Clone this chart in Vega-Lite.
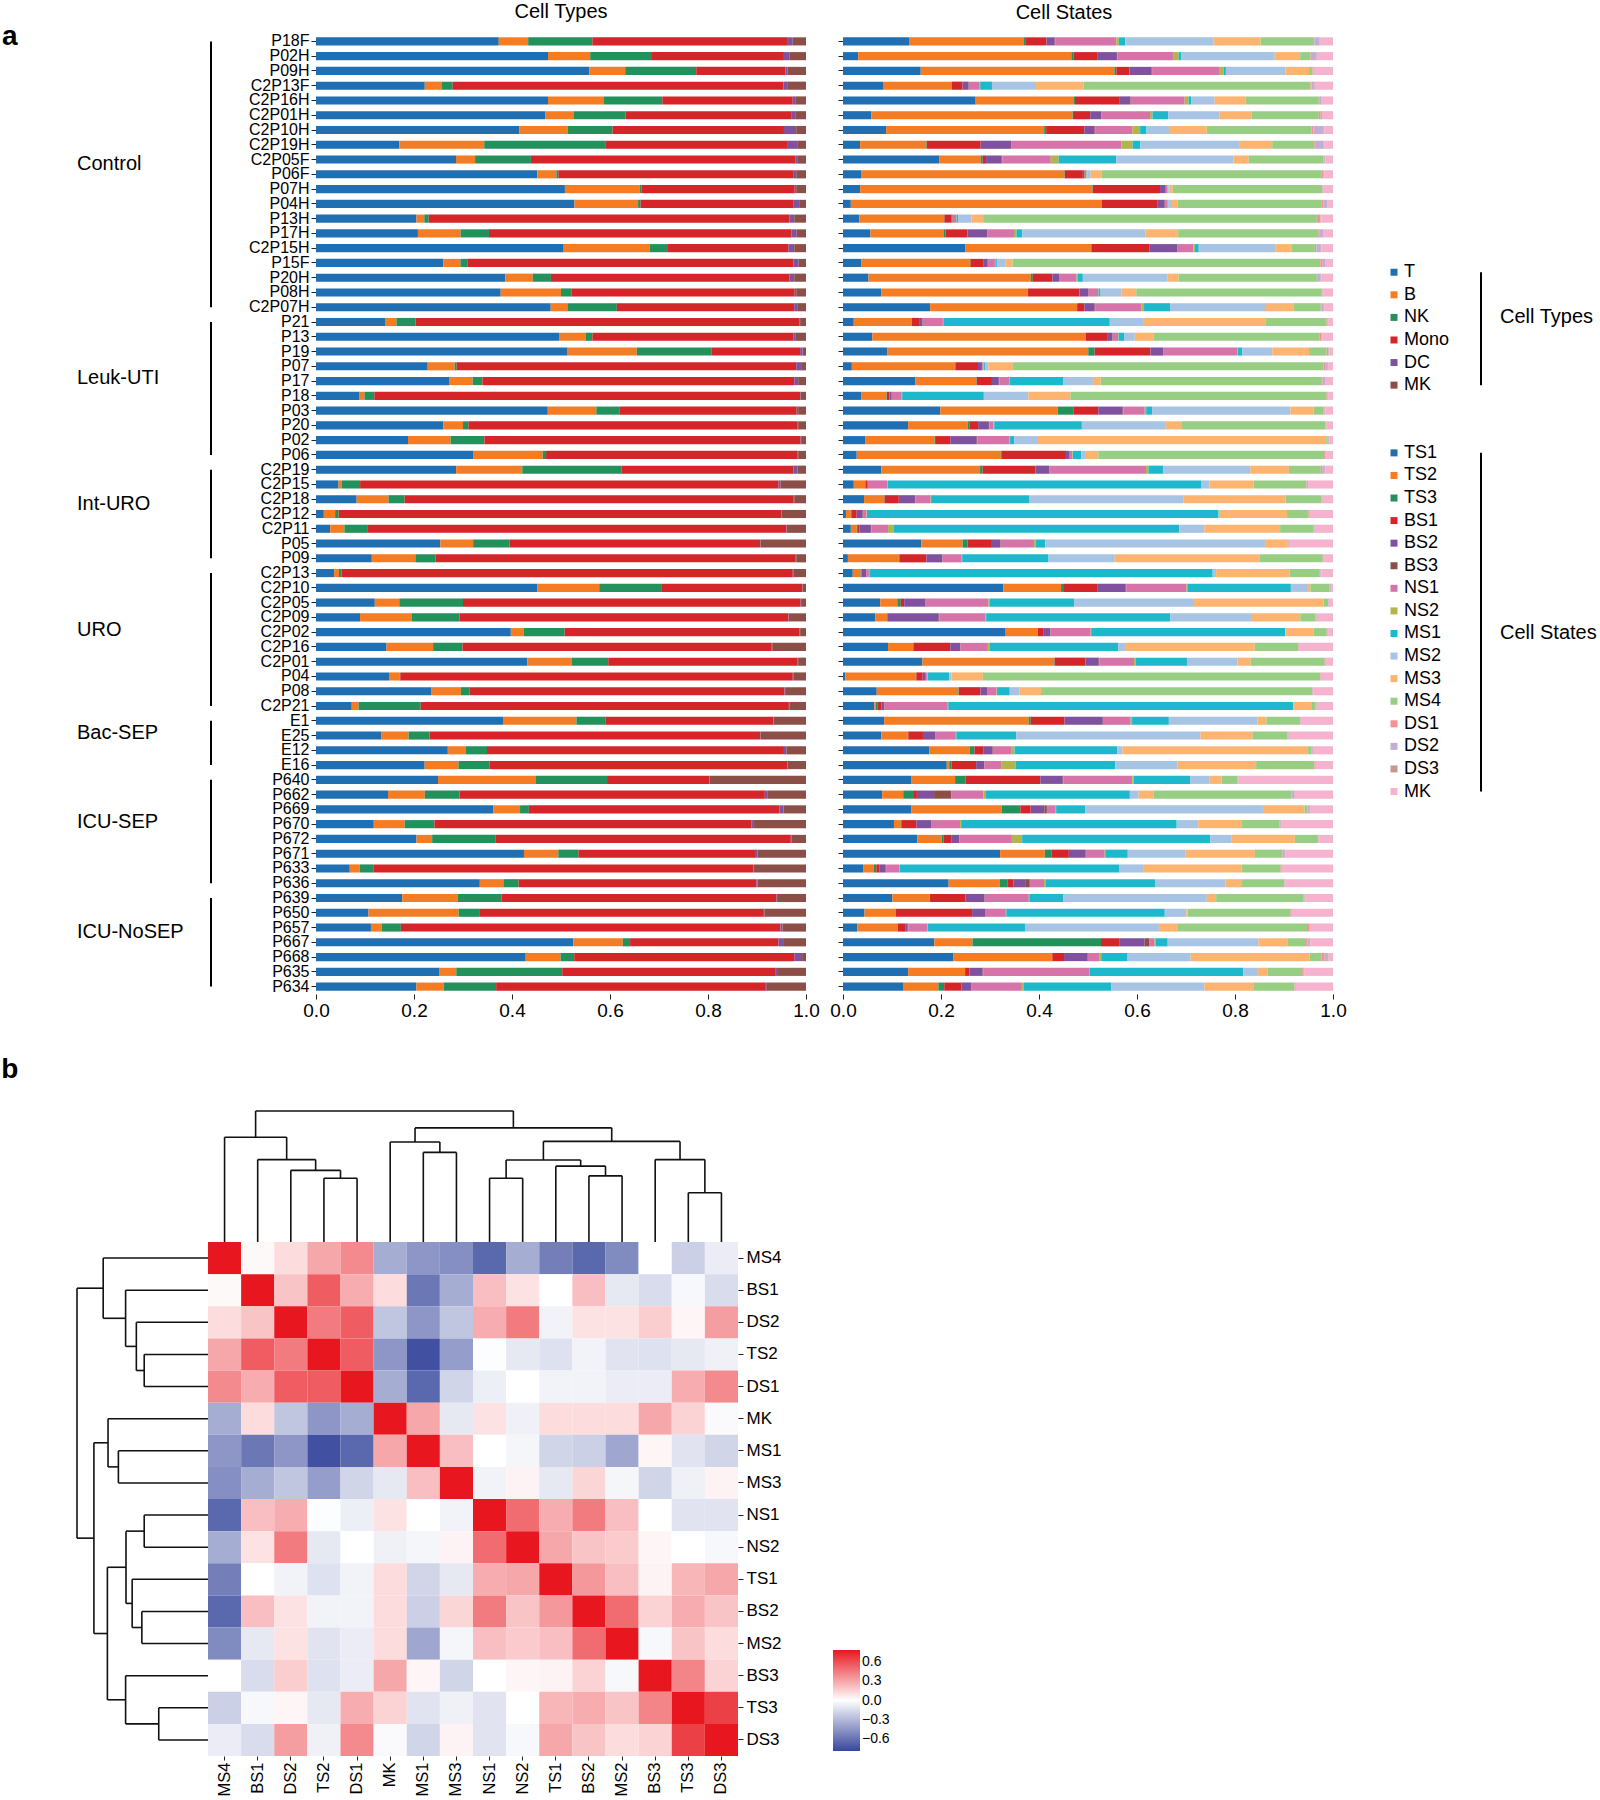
{
"$schema": "https://vega.github.io/schema/vega-lite/v6.json",
"padding": {"left": 1, "top": 1, "right": 0, "bottom": 0},
"config": {"font": "Liberation Sans", "view": {"stroke": null}, "axis": {"tickColor": "#222", "labelColor": "#000", "domainColor": "#000", "grid": false}},
"datasets": {
"typeCats": [{"k":"T","i":0,"id":"T"},{"k":"B","i":1,"id":"B"},{"k":"NK","i":2,"id":"NK"},{"k":"Mono","i":3,"id":"Mono"},{"k":"DC","i":4,"id":"DC"},{"k":"MK","i":5,"id":"MK_t"}],
"stateCats": [{"k":"TS1","i":0,"id":"TS1"},{"k":"TS2","i":1,"id":"TS2"},{"k":"TS3","i":2,"id":"TS3"},{"k":"BS1","i":3,"id":"BS1"},{"k":"BS2","i":4,"id":"BS2"},{"k":"BS3","i":5,"id":"BS3"},{"k":"NS1","i":6,"id":"NS1"},{"k":"NS2","i":7,"id":"NS2"},{"k":"MS1","i":8,"id":"MS1"},{"k":"MS2","i":9,"id":"MS2"},{"k":"MS3","i":10,"id":"MS3"},{"k":"MS4","i":11,"id":"MS4"},{"k":"DS1","i":12,"id":"DS1"},{"k":"DS2","i":13,"id":"DS2"},{"k":"DS3","i":14,"id":"DS3"},{"k":"MK","i":15,"id":"MK_s"}],
"legendBrackets": [{"a":"T","b":"MK_t","t":"Cell Types","m":"NK"},{"a":"TS1","b":"MK_s","t":"Cell States","m":"MS1"}],
"types": [
{"s":"P18F","g":"Control","T":0.373,"B":0.06,"NK":0.131,"Mono":0.399,"DC":0.01,"MK":0.027},
{"s":"P02H","g":"Control","T":0.473,"B":0.086,"NK":0.126,"Mono":0.269,"DC":0.012,"MK":0.033},
{"s":"P09H","g":"Control","T":0.558,"B":0.073,"NK":0.145,"Mono":0.182,"DC":0.004,"MK":0.038},
{"s":"C2P13F","g":"Control","T":0.222,"B":0.035,"NK":0.022,"Mono":0.675,"DC":0.009,"MK":0.037},
{"s":"C2P16H","g":"Control","T":0.473,"B":0.113,"NK":0.12,"Mono":0.266,"DC":0.005,"MK":0.022},
{"s":"C2P01H","g":"Control","T":0.468,"B":0.058,"NK":0.105,"Mono":0.339,"DC":0.007,"MK":0.022},
{"s":"C2P10H","g":"Control","T":0.415,"B":0.099,"NK":0.092,"Mono":0.35,"DC":0.025,"MK":0.02},
{"s":"C2P19H","g":"Control","T":0.17,"B":0.173,"NK":0.248,"Mono":0.371,"DC":0.019,"MK":0.018},
{"s":"C2P05F","g":"Control","T":0.286,"B":0.039,"NK":0.114,"Mono":0.54,"DC":0.004,"MK":0.018},
{"s":"P06F","g":"Control","T":0.452,"B":0.039,"NK":0.004,"Mono":0.481,"DC":0.005,"MK":0.02},
{"s":"P07H","g":"Control","T":0.508,"B":0.153,"NK":0.003,"Mono":0.313,"DC":0.003,"MK":0.02},
{"s":"P04H","g":"Control","T":0.528,"B":0.13,"NK":0.005,"Mono":0.313,"DC":0.011,"MK":0.014},
{"s":"P13H","g":"Control","T":0.205,"B":0.016,"NK":0.009,"Mono":0.736,"DC":0.01,"MK":0.024},
{"s":"P17H","g":"Control","T":0.208,"B":0.087,"NK":0.058,"Mono":0.617,"DC":0.011,"MK":0.019},
{"s":"C2P15H","g":"Control","T":0.506,"B":0.176,"NK":0.037,"Mono":0.246,"DC":0.012,"MK":0.024},
{"s":"P15F","g":"Control","T":0.26,"B":0.035,"NK":0.014,"Mono":0.666,"DC":0.011,"MK":0.015},
{"s":"P20H","g":"Control","T":0.386,"B":0.056,"NK":0.037,"Mono":0.486,"DC":0.01,"MK":0.024},
{"s":"P08H","g":"Control","T":0.377,"B":0.123,"NK":0.022,"Mono":0.455,"DC":0.003,"MK":0.02},
{"s":"C2P07H","g":"Control","T":0.479,"B":0.034,"NK":0.101,"Mono":0.362,"DC":0.006,"MK":0.018},
{"s":"P21","g":"Leuk-UTI","T":0.142,"B":0.022,"NK":0.039,"Mono":0.783,"DC":0.001,"MK":0.012},
{"s":"P13","g":"Leuk-UTI","T":0.496,"B":0.054,"NK":0.014,"Mono":0.41,"DC":0.004,"MK":0.022},
{"s":"P19","g":"Leuk-UTI","T":0.513,"B":0.141,"NK":0.152,"Mono":0.181,"DC":0.005,"MK":0.007},
{"s":"P07","g":"Leuk-UTI","T":0.228,"B":0.055,"NK":0.004,"Mono":0.693,"DC":0.01,"MK":0.01},
{"s":"P17","g":"Leuk-UTI","T":0.273,"B":0.047,"NK":0.02,"Mono":0.637,"DC":0.008,"MK":0.016},
{"s":"P18","g":"Leuk-UTI","T":0.089,"B":0.01,"NK":0.02,"Mono":0.869,"DC":0.001,"MK":0.011},
{"s":"P03","g":"Leuk-UTI","T":0.473,"B":0.099,"NK":0.047,"Mono":0.362,"DC":0.003,"MK":0.016},
{"s":"P20","g":"Leuk-UTI","T":0.26,"B":0.04,"NK":0.011,"Mono":0.672,"DC":0.001,"MK":0.016},
{"s":"P02","g":"Leuk-UTI","T":0.188,"B":0.087,"NK":0.069,"Mono":0.646,"DC":0.001,"MK":0.01},
{"s":"P06","g":"Leuk-UTI","T":0.322,"B":0.141,"NK":0.007,"Mono":0.514,"DC":0.001,"MK":0.016},
{"s":"C2P19","g":"Int-URO","T":0.286,"B":0.135,"NK":0.203,"Mono":0.35,"DC":0.009,"MK":0.017},
{"s":"C2P15","g":"Int-URO","T":0.046,"B":0.007,"NK":0.037,"Mono":0.854,"DC":0.004,"MK":0.052},
{"s":"C2P18","g":"Int-URO","T":0.083,"B":0.065,"NK":0.033,"Mono":0.795,"DC":0.001,"MK":0.024},
{"s":"C2P12","g":"Int-URO","T":0.016,"B":0.023,"NK":0.007,"Mono":0.903,"DC":0.001,"MK":0.05},
{"s":"C2P11","g":"Int-URO","T":0.029,"B":0.029,"NK":0.048,"Mono":0.855,"DC":0.001,"MK":0.039},
{"s":"P05","g":"Int-URO","T":0.254,"B":0.067,"NK":0.074,"Mono":0.513,"DC":0.001,"MK":0.092},
{"s":"P09","g":"Int-URO","T":0.114,"B":0.089,"NK":0.041,"Mono":0.736,"DC":0.001,"MK":0.02},
{"s":"C2P13","g":"URO","T":0.037,"B":0.01,"NK":0.005,"Mono":0.922,"DC":0.001,"MK":0.026},
{"s":"C2P10","g":"URO","T":0.452,"B":0.126,"NK":0.128,"Mono":0.286,"DC":0.001,"MK":0.007},
{"s":"C2P05","g":"URO","T":0.12,"B":0.05,"NK":0.13,"Mono":0.689,"DC":0.001,"MK":0.01},
{"s":"C2P09","g":"URO","T":0.09,"B":0.106,"NK":0.097,"Mono":0.672,"DC":0.001,"MK":0.035},
{"s":"C2P02","g":"URO","T":0.398,"B":0.026,"NK":0.084,"Mono":0.48,"DC":0.001,"MK":0.012},
{"s":"C2P16","g":"URO","T":0.144,"B":0.095,"NK":0.06,"Mono":0.631,"DC":0.001,"MK":0.069},
{"s":"C2P01","g":"URO","T":0.432,"B":0.09,"NK":0.075,"Mono":0.387,"DC":0.001,"MK":0.016},
{"s":"P04","g":"URO","T":0.149,"B":0.022,"NK":0.001,"Mono":0.801,"DC":0.002,"MK":0.025},
{"s":"P08","g":"URO","T":0.235,"B":0.061,"NK":0.018,"Mono":0.643,"DC":0.003,"MK":0.041},
{"s":"C2P21","g":"URO","T":0.073,"B":0.014,"NK":0.127,"Mono":0.752,"DC":0.001,"MK":0.034},
{"s":"E1","g":"Bac-SEP","T":0.382,"B":0.15,"NK":0.059,"Mono":0.343,"DC":0.001,"MK":0.066},
{"s":"E25","g":"Bac-SEP","T":0.133,"B":0.056,"NK":0.043,"Mono":0.676,"DC":0.001,"MK":0.092},
{"s":"E12","g":"Bac-SEP","T":0.269,"B":0.037,"NK":0.043,"Mono":0.606,"DC":0.005,"MK":0.04},
{"s":"E16","g":"Bac-SEP","T":0.222,"B":0.069,"NK":0.064,"Mono":0.608,"DC":0.001,"MK":0.037},
{"s":"P640","g":"ICU-SEP","T":0.249,"B":0.2,"NK":0.145,"Mono":0.209,"DC":0.001,"MK":0.196},
{"s":"P662","g":"ICU-SEP","T":0.147,"B":0.075,"NK":0.071,"Mono":0.623,"DC":0.006,"MK":0.078},
{"s":"P669","g":"ICU-SEP","T":0.362,"B":0.054,"NK":0.018,"Mono":0.511,"DC":0.008,"MK":0.046},
{"s":"P670","g":"ICU-SEP","T":0.118,"B":0.063,"NK":0.061,"Mono":0.648,"DC":0.003,"MK":0.108},
{"s":"P672","g":"ICU-SEP","T":0.205,"B":0.032,"NK":0.13,"Mono":0.602,"DC":0.001,"MK":0.03},
{"s":"P671","g":"ICU-SEP","T":0.424,"B":0.07,"NK":0.041,"Mono":0.36,"DC":0.005,"MK":0.099},
{"s":"P633","g":"ICU-SEP","T":0.069,"B":0.02,"NK":0.028,"Mono":0.776,"DC":0.001,"MK":0.107},
{"s":"P636","g":"ICU-SEP","T":0.334,"B":0.048,"NK":0.031,"Mono":0.485,"DC":0.002,"MK":0.099},
{"s":"P639","g":"ICU-NoSEP","T":0.176,"B":0.113,"NK":0.09,"Mono":0.561,"DC":0.001,"MK":0.059},
{"s":"P650","g":"ICU-NoSEP","T":0.107,"B":0.184,"NK":0.042,"Mono":0.581,"DC":0.001,"MK":0.085},
{"s":"P657","g":"ICU-NoSEP","T":0.112,"B":0.022,"NK":0.039,"Mono":0.774,"DC":0.004,"MK":0.048},
{"s":"P667","g":"ICU-NoSEP","T":0.525,"B":0.101,"NK":0.015,"Mono":0.303,"DC":0.011,"MK":0.045},
{"s":"P668","g":"ICU-NoSEP","T":0.428,"B":0.071,"NK":0.028,"Mono":0.449,"DC":0.016,"MK":0.008},
{"s":"P635","g":"ICU-NoSEP","T":0.252,"B":0.034,"NK":0.216,"Mono":0.434,"DC":0.004,"MK":0.059},
{"s":"P634","g":"ICU-NoSEP","T":0.205,"B":0.056,"NK":0.107,"Mono":0.551,"DC":0.002,"MK":0.08}
],
"states": [
{"s":"P18F","TS1":0.135,"TS2":0.235,"TS3":0.004,"BS1":0.042,"BS2":0.017,"BS3":0.001,"NS1":0.125,"NS2":0.005,"MS1":0.013,"MS2":0.181,"MS3":0.096,"MS4":0.109,"DS1":0.001,"DS2":0.01,"DS3":0.001,"MK":0.027},
{"s":"P02H","TS1":0.031,"TS2":0.435,"TS3":0.005,"BS1":0.049,"BS2":0.039,"BS3":0.001,"NS1":0.115,"NS2":0.01,"MS1":0.005,"MS2":0.191,"MS3":0.052,"MS4":0.021,"DS1":0.001,"DS2":0.011,"DS3":0.001,"MK":0.033},
{"s":"P09H","TS1":0.159,"TS2":0.396,"TS3":0.004,"BS1":0.027,"BS2":0.045,"BS3":0.001,"NS1":0.137,"NS2":0.009,"MS1":0.005,"MS2":0.122,"MS3":0.048,"MS4":0.007,"DS1":0.001,"DS2":0.001,"DS3":0.001,"MK":0.039},
{"s":"C2P13F","TS1":0.083,"TS2":0.138,"TS3":0.001,"BS1":0.022,"BS2":0.012,"BS3":0.001,"NS1":0.022,"NS2":0.001,"MS1":0.024,"MS2":0.09,"MS3":0.097,"MS4":0.463,"DS1":0.002,"DS2":0.006,"DS3":0.001,"MK":0.037},
{"s":"C2P16H","TS1":0.271,"TS2":0.201,"TS3":0.002,"BS1":0.09,"BS2":0.023,"BS3":0.001,"NS1":0.11,"NS2":0.008,"MS1":0.005,"MS2":0.048,"MS3":0.063,"MS4":0.15,"DS1":0.002,"DS2":0.003,"DS3":0.001,"MK":0.023},
{"s":"C2P01H","TS1":0.058,"TS2":0.41,"TS3":0.001,"BS1":0.035,"BS2":0.022,"BS3":0.001,"NS1":0.099,"NS2":0.005,"MS1":0.032,"MS2":0.105,"MS3":0.065,"MS4":0.137,"DS1":0.004,"DS2":0.003,"DS3":0.001,"MK":0.021},
{"s":"C2P10H","TS1":0.088,"TS2":0.323,"TS3":0.004,"BS1":0.078,"BS2":0.021,"BS3":0.001,"NS1":0.076,"NS2":0.016,"MS1":0.013,"MS2":0.046,"MS3":0.077,"MS4":0.214,"DS1":0.004,"DS2":0.021,"DS3":0.001,"MK":0.018},
{"s":"C2P19H","TS1":0.035,"TS2":0.135,"TS3":0.001,"BS1":0.11,"BS2":0.062,"BS3":0.001,"NS1":0.224,"NS2":0.023,"MS1":0.016,"MS2":0.203,"MS3":0.066,"MS4":0.086,"DS1":0.003,"DS2":0.016,"DS3":0.001,"MK":0.018},
{"s":"C2P05F","TS1":0.197,"TS2":0.084,"TS3":0.004,"BS1":0.007,"BS2":0.032,"BS3":0.001,"NS1":0.099,"NS2":0.016,"MS1":0.118,"MS2":0.239,"MS3":0.031,"MS4":0.152,"DS1":0.001,"DS2":0.002,"DS3":0.001,"MK":0.016},
{"s":"P06F","TS1":0.038,"TS2":0.414,"TS3":0.001,"BS1":0.037,"BS2":0.003,"BS3":0.001,"NS1":0.003,"NS2":0.001,"MS1":0.001,"MS2":0.007,"MS3":0.022,"MS4":0.45,"DS1":0.003,"DS2":0.001,"DS3":0.001,"MK":0.018},
{"s":"P07H","TS1":0.035,"TS2":0.474,"TS3":0.001,"BS1":0.137,"BS2":0.011,"BS3":0.001,"NS1":0.003,"NS2":0.001,"MS1":0.001,"MS2":0.003,"MS3":0.006,"MS4":0.305,"DS1":0.001,"DS2":0.001,"DS3":0.001,"MK":0.019},
{"s":"P04H","TS1":0.016,"TS2":0.512,"TS3":0.001,"BS1":0.114,"BS2":0.014,"BS3":0.001,"NS1":0.004,"NS2":0.001,"MS1":0.001,"MS2":0.008,"MS3":0.012,"MS4":0.293,"DS1":0.004,"DS2":0.008,"DS3":0.001,"MK":0.011},
{"s":"P13H","TS1":0.033,"TS2":0.173,"TS3":0.001,"BS1":0.014,"BS2":0.002,"BS3":0.001,"NS1":0.007,"NS2":0.001,"MS1":0.003,"MS2":0.027,"MS3":0.024,"MS4":0.681,"DS1":0.007,"DS2":0.001,"DS3":0.001,"MK":0.024},
{"s":"P17H","TS1":0.056,"TS2":0.15,"TS3":0.003,"BS1":0.045,"BS2":0.04,"BS3":0.001,"NS1":0.054,"NS2":0.005,"MS1":0.012,"MS2":0.251,"MS3":0.067,"MS4":0.286,"DS1":0.003,"DS2":0.007,"DS3":0.001,"MK":0.019},
{"s":"C2P15H","TS1":0.25,"TS2":0.256,"TS3":0.001,"BS1":0.119,"BS2":0.056,"BS3":0.001,"NS1":0.032,"NS2":0.003,"MS1":0.008,"MS2":0.156,"MS3":0.033,"MS4":0.048,"DS1":0.003,"DS2":0.009,"DS3":0.001,"MK":0.024},
{"s":"P15F","TS1":0.037,"TS2":0.222,"TS3":0.001,"BS1":0.026,"BS2":0.009,"BS3":0.001,"NS1":0.014,"NS2":0.001,"MS1":0.003,"MS2":0.018,"MS3":0.014,"MS4":0.628,"DS1":0.005,"DS2":0.005,"DS3":0.001,"MK":0.015},
{"s":"P20H","TS1":0.052,"TS2":0.331,"TS3":0.004,"BS1":0.04,"BS2":0.014,"BS3":0.001,"NS1":0.034,"NS2":0.003,"MS1":0.01,"MS2":0.173,"MS3":0.022,"MS4":0.282,"DS1":0.002,"DS2":0.006,"DS3":0.001,"MK":0.024},
{"s":"P08H","TS1":0.078,"TS2":0.299,"TS3":0.001,"BS1":0.105,"BS2":0.018,"BS3":0.001,"NS1":0.019,"NS2":0.001,"MS1":0.003,"MS2":0.044,"MS3":0.03,"MS4":0.379,"DS1":0.001,"DS2":0.001,"DS3":0.001,"MK":0.02},
{"s":"C2P07H","TS1":0.178,"TS2":0.3,"TS3":0.002,"BS1":0.013,"BS2":0.021,"BS3":0.001,"NS1":0.095,"NS2":0.005,"MS1":0.053,"MS2":0.196,"MS3":0.056,"MS4":0.056,"DS1":0.001,"DS2":0.005,"DS3":0.001,"MK":0.018},
{"s":"P21","TS1":0.022,"TS2":0.118,"TS3":0.001,"BS1":0.016,"BS2":0.005,"BS3":0.001,"NS1":0.041,"NS2":0.001,"MS1":0.34,"MS2":0.068,"MS3":0.251,"MS4":0.124,"DS1":0.001,"DS2":0.001,"DS3":0.001,"MK":0.01},
{"s":"P13","TS1":0.06,"TS2":0.435,"TS3":0.001,"BS1":0.045,"BS2":0.009,"BS3":0.001,"NS1":0.011,"NS2":0.001,"MS1":0.011,"MS2":0.022,"MS3":0.039,"MS4":0.339,"DS1":0.003,"DS2":0.001,"DS3":0.001,"MK":0.022},
{"s":"P19","TS1":0.091,"TS2":0.41,"TS3":0.013,"BS1":0.114,"BS2":0.026,"BS3":0.001,"NS1":0.151,"NS2":0.001,"MS1":0.009,"MS2":0.061,"MS3":0.075,"MS4":0.036,"DS1":0.003,"DS2":0.001,"DS3":0.001,"MK":0.008},
{"s":"P07","TS1":0.018,"TS2":0.21,"TS3":0.001,"BS1":0.046,"BS2":0.008,"BS3":0.001,"NS1":0.002,"NS2":0.001,"MS1":0.002,"MS2":0.007,"MS3":0.05,"MS4":0.633,"DS1":0.003,"DS2":0.005,"DS3":0.001,"MK":0.01},
{"s":"P17","TS1":0.148,"TS2":0.124,"TS3":0.001,"BS1":0.031,"BS2":0.014,"BS3":0.001,"NS1":0.02,"NS2":0.001,"MS1":0.109,"MS2":0.061,"MS3":0.016,"MS4":0.45,"DS1":0.003,"DS2":0.005,"DS3":0.001,"MK":0.015},
{"s":"P18","TS1":0.037,"TS2":0.052,"TS3":0.001,"BS1":0.005,"BS2":0.004,"BS3":0.001,"NS1":0.02,"NS2":0.001,"MS1":0.167,"MS2":0.091,"MS3":0.086,"MS4":0.524,"DS1":0.001,"DS2":0.001,"DS3":0.001,"MK":0.01},
{"s":"P03","TS1":0.199,"TS2":0.24,"TS3":0.033,"BS1":0.05,"BS2":0.05,"BS3":0.001,"NS1":0.044,"NS2":0.003,"MS1":0.012,"MS2":0.283,"MS3":0.047,"MS4":0.021,"DS1":0.001,"DS2":0.001,"DS3":0.001,"MK":0.016},
{"s":"P20","TS1":0.133,"TS2":0.122,"TS3":0.003,"BS1":0.018,"BS2":0.022,"BS3":0.001,"NS1":0.008,"NS2":0.002,"MS1":0.179,"MS2":0.17,"MS3":0.033,"MS4":0.294,"DS1":0.001,"DS2":0.001,"DS3":0.001,"MK":0.013},
{"s":"P02","TS1":0.046,"TS2":0.141,"TS3":0.001,"BS1":0.031,"BS2":0.054,"BS3":0.001,"NS1":0.066,"NS2":0.001,"MS1":0.009,"MS2":0.048,"MS3":0.588,"MS4":0.003,"DS1":0.001,"DS2":0.001,"DS3":0.001,"MK":0.008},
{"s":"P06","TS1":0.028,"TS2":0.294,"TS3":0.001,"BS1":0.132,"BS2":0.007,"BS3":0.001,"NS1":0.005,"NS2":0.001,"MS1":0.017,"MS2":0.008,"MS3":0.027,"MS4":0.461,"DS1":0.002,"DS2":0.001,"DS3":0.001,"MK":0.014},
{"s":"C2P19","TS1":0.078,"TS2":0.202,"TS3":0.005,"BS1":0.108,"BS2":0.028,"BS3":0.001,"NS1":0.197,"NS2":0.005,"MS1":0.03,"MS2":0.178,"MS3":0.079,"MS4":0.065,"DS1":0.003,"DS2":0.005,"DS3":0.001,"MK":0.016},
{"s":"C2P15","TS1":0.022,"TS2":0.023,"TS3":0.001,"BS1":0.003,"BS2":0.001,"BS3":0.001,"NS1":0.039,"NS2":0.001,"MS1":0.64,"MS2":0.016,"MS3":0.09,"MS4":0.107,"DS1":0.001,"DS2":0.003,"DS3":0.001,"MK":0.05},
{"s":"C2P18","TS1":0.043,"TS2":0.041,"TS3":0.001,"BS1":0.029,"BS2":0.033,"BS3":0.001,"NS1":0.031,"NS2":0.001,"MS1":0.2,"MS2":0.315,"MS3":0.209,"MS4":0.073,"DS1":0.001,"DS2":0.001,"DS3":0.001,"MK":0.021},
{"s":"C2P12","TS1":0.006,"TS2":0.01,"TS3":0.001,"BS1":0.011,"BS2":0.012,"BS3":0.001,"NS1":0.007,"NS2":0.001,"MS1":0.719,"MS2":0.001,"MS3":0.139,"MS4":0.044,"DS1":0.001,"DS2":0.001,"DS3":0.001,"MK":0.047},
{"s":"C2P11","TS1":0.016,"TS2":0.012,"TS3":0.001,"BS1":0.005,"BS2":0.023,"BS3":0.001,"NS1":0.034,"NS2":0.012,"MS1":0.583,"MS2":0.051,"MS3":0.155,"MS4":0.068,"DS1":0.001,"DS2":0.001,"DS3":0.001,"MK":0.037},
{"s":"P05","TS1":0.16,"TS2":0.084,"TS3":0.01,"BS1":0.048,"BS2":0.019,"BS3":0.001,"NS1":0.068,"NS2":0.003,"MS1":0.02,"MS2":0.448,"MS3":0.045,"MS4":0.001,"DS1":0.001,"DS2":0.001,"DS3":0.001,"MK":0.09},
{"s":"P09","TS1":0.01,"TS2":0.104,"TS3":0.001,"BS1":0.055,"BS2":0.032,"BS3":0.001,"NS1":0.039,"NS2":0.001,"MS1":0.176,"MS2":0.135,"MS3":0.295,"MS4":0.129,"DS1":0.001,"DS2":0.001,"DS3":0.001,"MK":0.018},
{"s":"C2P13","TS1":0.02,"TS2":0.016,"TS3":0.001,"BS1":0.001,"BS2":0.009,"BS3":0.001,"NS1":0.005,"NS2":0.001,"MS1":0.702,"MS2":0.007,"MS3":0.15,"MS4":0.062,"DS1":0.001,"DS2":0.001,"DS3":0.001,"MK":0.024},
{"s":"C2P10","TS1":0.327,"TS2":0.118,"TS3":0.006,"BS1":0.069,"BS2":0.057,"BS3":0.001,"NS1":0.123,"NS2":0.003,"MS1":0.21,"MS2":0.033,"MS3":0.007,"MS4":0.039,"DS1":0.001,"DS2":0.001,"DS3":0.001,"MK":0.004},
{"s":"C2P05","TS1":0.076,"TS2":0.035,"TS3":0.007,"BS1":0.007,"BS2":0.043,"BS3":0.001,"NS1":0.128,"NS2":0.002,"MS1":0.173,"MS2":0.243,"MS3":0.267,"MS4":0.009,"DS1":0.001,"DS2":0.001,"DS3":0.001,"MK":0.007},
{"s":"C2P09","TS1":0.066,"TS2":0.024,"TS3":0.001,"BS1":0.001,"BS2":0.104,"BS3":0.001,"NS1":0.095,"NS2":0.001,"MS1":0.377,"MS2":0.167,"MS3":0.099,"MS4":0.031,"DS1":0.001,"DS2":0.001,"DS3":0.001,"MK":0.033},
{"s":"C2P02","TS1":0.333,"TS2":0.065,"TS3":0.001,"BS1":0.012,"BS2":0.013,"BS3":0.001,"NS1":0.082,"NS2":0.001,"MS1":0.397,"MS2":0.001,"MS3":0.057,"MS4":0.027,"DS1":0.001,"DS2":0.001,"DS3":0.001,"MK":0.01},
{"s":"C2P16","TS1":0.092,"TS2":0.051,"TS3":0.001,"BS1":0.075,"BS2":0.02,"BS3":0.001,"NS1":0.056,"NS2":0.003,"MS1":0.263,"MS2":0.014,"MS3":0.265,"MS4":0.089,"DS1":0.001,"DS2":0.001,"DS3":0.001,"MK":0.068},
{"s":"C2P01","TS1":0.162,"TS2":0.269,"TS3":0.001,"BS1":0.063,"BS2":0.027,"BS3":0.001,"NS1":0.071,"NS2":0.003,"MS1":0.105,"MS2":0.103,"MS3":0.027,"MS4":0.151,"DS1":0.001,"DS2":0.001,"DS3":0.001,"MK":0.014},
{"s":"P04","TS1":0.005,"TS2":0.144,"TS3":0.001,"BS1":0.013,"BS2":0.006,"BS3":0.001,"NS1":0.002,"NS2":0.001,"MS1":0.044,"MS2":0.005,"MS3":0.064,"MS4":0.69,"DS1":0.001,"DS2":0.001,"DS3":0.001,"MK":0.023},
{"s":"P08","TS1":0.069,"TS2":0.167,"TS3":0.001,"BS1":0.044,"BS2":0.014,"BS3":0.001,"NS1":0.018,"NS2":0.001,"MS1":0.026,"MS2":0.02,"MS3":0.044,"MS4":0.554,"DS1":0.001,"DS2":0.001,"DS3":0.001,"MK":0.04},
{"s":"C2P21","TS1":0.064,"TS2":0.003,"TS3":0.003,"BS1":0.009,"BS2":0.005,"BS3":0.001,"NS1":0.129,"NS2":0.001,"MS1":0.705,"MS2":0.001,"MS3":0.037,"MS4":0.007,"DS1":0.001,"DS2":0.001,"DS3":0.001,"MK":0.033},
{"s":"E1","TS1":0.084,"TS2":0.295,"TS3":0.004,"BS1":0.069,"BS2":0.078,"BS3":0.002,"NS1":0.055,"NS2":0.003,"MS1":0.075,"MS2":0.181,"MS3":0.018,"MS4":0.069,"DS1":0.001,"DS2":0.001,"DS3":0.001,"MK":0.064},
{"s":"E25","TS1":0.078,"TS2":0.054,"TS3":0.001,"BS1":0.03,"BS2":0.025,"BS3":0.001,"NS1":0.041,"NS2":0.001,"MS1":0.122,"MS2":0.376,"MS3":0.106,"MS4":0.071,"DS1":0.001,"DS2":0.001,"DS3":0.001,"MK":0.09},
{"s":"E12","TS1":0.177,"TS2":0.082,"TS3":0.01,"BS1":0.018,"BS2":0.019,"BS3":0.001,"NS1":0.037,"NS2":0.007,"MS1":0.21,"MS2":0.011,"MS3":0.38,"MS4":0.007,"DS1":0.001,"DS2":0.001,"DS3":0.001,"MK":0.041},
{"s":"E16","TS1":0.212,"TS2":0.005,"TS3":0.005,"BS1":0.05,"BS2":0.016,"BS3":0.001,"NS1":0.034,"NS2":0.03,"MS1":0.203,"MS2":0.127,"MS3":0.161,"MS4":0.119,"DS1":0.001,"DS2":0.001,"DS3":0.001,"MK":0.035},
{"s":"P640","TS1":0.139,"TS2":0.09,"TS3":0.021,"BS1":0.153,"BS2":0.046,"BS3":0.001,"NS1":0.141,"NS2":0.003,"MS1":0.115,"MS2":0.039,"MS3":0.025,"MS4":0.032,"DS1":0.001,"DS2":0.001,"DS3":0.001,"MK":0.193},
{"s":"P662","TS1":0.08,"TS2":0.043,"TS3":0.022,"BS1":0.006,"BS2":0.035,"BS3":0.035,"NS1":0.066,"NS2":0.005,"MS1":0.294,"MS2":0.018,"MS3":0.03,"MS4":0.282,"DS1":0.001,"DS2":0.005,"DS3":0.001,"MK":0.078},
{"s":"P669","TS1":0.139,"TS2":0.185,"TS3":0.038,"BS1":0.021,"BS2":0.028,"BS3":0.005,"NS1":0.018,"NS2":0.001,"MS1":0.059,"MS2":0.363,"MS3":0.085,"MS4":0.005,"DS1":0.001,"DS2":0.004,"DS3":0.001,"MK":0.047},
{"s":"P670","TS1":0.104,"TS2":0.014,"TS3":0.001,"BS1":0.031,"BS2":0.03,"BS3":0.001,"NS1":0.058,"NS2":0.002,"MS1":0.44,"MS2":0.044,"MS3":0.088,"MS4":0.078,"DS1":0.001,"DS2":0.001,"DS3":0.001,"MK":0.106},
{"s":"P672","TS1":0.152,"TS2":0.05,"TS3":0.003,"BS1":0.016,"BS2":0.016,"BS3":0.001,"NS1":0.107,"NS2":0.021,"MS1":0.384,"MS2":0.043,"MS3":0.13,"MS4":0.047,"DS1":0.001,"DS2":0.001,"DS3":0.001,"MK":0.028},
{"s":"P671","TS1":0.32,"TS2":0.091,"TS3":0.014,"BS1":0.035,"BS2":0.034,"BS3":0.001,"NS1":0.038,"NS2":0.001,"MS1":0.046,"MS2":0.118,"MS3":0.141,"MS4":0.056,"DS1":0.001,"DS2":0.004,"DS3":0.001,"MK":0.097},
{"s":"P633","TS1":0.041,"TS2":0.022,"TS3":0.005,"BS1":0.007,"BS2":0.012,"BS3":0.001,"NS1":0.027,"NS2":0.001,"MS1":0.449,"MS2":0.048,"MS3":0.201,"MS4":0.08,"DS1":0.001,"DS2":0.001,"DS3":0.001,"MK":0.104},
{"s":"P636","TS1":0.216,"TS2":0.104,"TS3":0.016,"BS1":0.013,"BS2":0.025,"BS3":0.008,"NS1":0.029,"NS2":0.003,"MS1":0.224,"MS2":0.144,"MS3":0.034,"MS4":0.086,"DS1":0.001,"DS2":0.001,"DS3":0.001,"MK":0.097},
{"s":"P639","TS1":0.101,"TS2":0.076,"TS3":0.001,"BS1":0.072,"BS2":0.039,"BS3":0.001,"NS1":0.09,"NS2":0.001,"MS1":0.069,"MS2":0.294,"MS3":0.019,"MS4":0.179,"DS1":0.001,"DS2":0.001,"DS3":0.001,"MK":0.057},
{"s":"P650","TS1":0.044,"TS2":0.063,"TS3":0.001,"BS1":0.156,"BS2":0.027,"BS3":0.001,"NS1":0.041,"NS2":0.001,"MS1":0.324,"MS2":0.044,"MS3":0.003,"MS4":0.21,"DS1":0.001,"DS2":0.001,"DS3":0.001,"MK":0.084},
{"s":"P657","TS1":0.029,"TS2":0.082,"TS3":0.001,"BS1":0.016,"BS2":0.004,"BS3":0.001,"NS1":0.039,"NS2":0.001,"MS1":0.198,"MS2":0.273,"MS3":0.039,"MS4":0.265,"DS1":0.002,"DS2":0.001,"DS3":0.001,"MK":0.047},
{"s":"P667","TS1":0.186,"TS2":0.078,"TS3":0.262,"BS1":0.037,"BS2":0.052,"BS3":0.01,"NS1":0.01,"NS2":0.003,"MS1":0.024,"MS2":0.185,"MS3":0.06,"MS4":0.037,"DS1":0.003,"DS2":0.005,"DS3":0.001,"MK":0.046},
{"s":"P668","TS1":0.226,"TS2":0.201,"TS3":0.001,"BS1":0.024,"BS2":0.048,"BS3":0.001,"NS1":0.024,"NS2":0.003,"MS1":0.054,"MS2":0.129,"MS3":0.243,"MS4":0.025,"DS1":0.006,"DS2":0.007,"DS3":0.001,"MK":0.009},
{"s":"P635","TS1":0.133,"TS2":0.116,"TS3":0.002,"BS1":0.007,"BS2":0.027,"BS3":0.001,"NS1":0.216,"NS2":0.001,"MS1":0.314,"MS2":0.028,"MS3":0.022,"MS4":0.07,"DS1":0.002,"DS2":0.001,"DS3":0.001,"MK":0.059},
{"s":"P634","TS1":0.124,"TS2":0.071,"TS3":0.012,"BS1":0.035,"BS2":0.02,"BS3":0.001,"NS1":0.101,"NS2":0.005,"MS1":0.18,"MS2":0.19,"MS3":0.1,"MS4":0.084,"DS1":0.001,"DS2":0.001,"DS3":0.001,"MK":0.076}
],
"corr": [
{"r":"MS4","MS4":1,"BS1":0.02,"DS2":0.12,"TS2":0.3,"DS1":0.4,"MK":-0.35,"MS1":-0.45,"MS3":-0.48,"NS1":-0.65,"NS2":-0.35,"TS1":-0.55,"BS2":-0.65,"MS2":-0.5,"BS3":0,"TS3":-0.2,"DS3":-0.08},
{"r":"BS1","MS4":0.02,"BS1":1,"DS2":0.2,"TS2":0.55,"DS1":0.28,"MK":0.12,"MS1":-0.58,"MS3":-0.35,"NS1":0.22,"NS2":0.1,"TS1":0,"BS2":0.22,"MS2":-0.1,"BS3":-0.15,"TS3":-0.03,"DS3":-0.15},
{"r":"DS2","MS4":0.12,"BS1":0.2,"DS2":1,"TS2":0.45,"DS1":0.55,"MK":-0.25,"MS1":-0.45,"MS3":-0.25,"NS1":0.28,"NS2":0.45,"TS1":-0.05,"BS2":0.1,"MS2":0.1,"BS3":0.17,"TS3":0.03,"DS3":0.33},
{"r":"TS2","MS4":0.3,"BS1":0.55,"DS2":0.45,"TS2":1,"DS1":0.55,"MK":-0.45,"MS1":-0.75,"MS3":-0.42,"NS1":-0.01,"NS2":-0.1,"TS1":-0.13,"BS2":-0.05,"MS2":-0.12,"BS3":-0.13,"TS3":-0.1,"DS3":-0.06},
{"r":"DS1","MS4":0.4,"BS1":0.28,"DS2":0.55,"TS2":0.55,"DS1":1,"MK":-0.35,"MS1":-0.65,"MS3":-0.18,"NS1":-0.07,"NS2":0,"TS1":-0.05,"BS2":-0.05,"MS2":-0.08,"BS3":-0.08,"TS3":0.28,"DS3":0.4},
{"r":"MK","MS4":-0.35,"BS1":0.12,"DS2":-0.25,"TS2":-0.45,"DS1":-0.35,"MK":1,"MS1":0.3,"MS3":-0.1,"NS1":0.1,"NS2":-0.06,"TS1":0.12,"BS2":0.12,"MS2":0.12,"BS3":0.3,"TS3":0.15,"DS3":-0.02},
{"r":"MS1","MS4":-0.45,"BS1":-0.58,"DS2":-0.45,"TS2":-0.75,"DS1":-0.65,"MK":0.3,"MS1":1,"MS3":0.22,"NS1":0,"NS2":-0.04,"TS1":-0.18,"BS2":-0.2,"MS2":-0.38,"BS3":0.03,"TS3":-0.12,"DS3":-0.18},
{"r":"MS3","MS4":-0.48,"BS1":-0.35,"DS2":-0.25,"TS2":-0.42,"DS1":-0.18,"MK":-0.1,"MS1":0.22,"MS3":1,"NS1":-0.05,"NS2":0.04,"TS1":-0.1,"BS2":0.14,"MS2":-0.04,"BS3":-0.18,"TS3":-0.06,"DS3":0.04},
{"r":"NS1","MS4":-0.65,"BS1":0.22,"DS2":0.28,"TS2":-0.01,"DS1":-0.07,"MK":0.1,"MS1":0,"MS3":-0.05,"NS1":1,"NS2":0.5,"TS1":0.28,"BS2":0.45,"MS2":0.22,"BS3":0,"TS3":-0.12,"DS3":-0.12},
{"r":"NS2","MS4":-0.35,"BS1":0.1,"DS2":0.45,"TS2":-0.1,"DS1":0,"MK":-0.06,"MS1":-0.04,"MS3":0.04,"NS1":0.5,"NS2":1,"TS1":0.3,"BS2":0.2,"MS2":0.18,"BS3":0.03,"TS3":0,"DS3":-0.03},
{"r":"TS1","MS4":-0.55,"BS1":0,"DS2":-0.05,"TS2":-0.13,"DS1":-0.05,"MK":0.12,"MS1":-0.18,"MS3":-0.1,"NS1":0.28,"NS2":0.3,"TS1":1,"BS2":0.35,"MS2":0.22,"BS3":0.04,"TS3":0.25,"DS3":0.3},
{"r":"BS2","MS4":-0.65,"BS1":0.22,"DS2":0.1,"TS2":-0.05,"DS1":-0.05,"MK":0.12,"MS1":-0.2,"MS3":0.14,"NS1":0.45,"NS2":0.2,"TS1":0.35,"BS2":1,"MS2":0.5,"BS3":0.15,"TS3":0.28,"DS3":0.2},
{"r":"MS2","MS4":-0.5,"BS1":-0.1,"DS2":0.1,"TS2":-0.12,"DS1":-0.08,"MK":0.12,"MS1":-0.38,"MS3":-0.04,"NS1":0.22,"NS2":0.18,"TS1":0.22,"BS2":0.5,"MS2":1,"BS3":-0.03,"TS3":0.2,"DS3":0.12},
{"r":"BS3","MS4":0,"BS1":-0.15,"DS2":0.17,"TS2":-0.13,"DS1":-0.08,"MK":0.3,"MS1":0.03,"MS3":-0.18,"NS1":0,"NS2":0.03,"TS1":0.04,"BS2":0.15,"MS2":-0.03,"BS3":1,"TS3":0.42,"DS3":0.15},
{"r":"TS3","MS4":-0.2,"BS1":-0.03,"DS2":0.03,"TS2":-0.1,"DS1":0.28,"MK":0.15,"MS1":-0.12,"MS3":-0.06,"NS1":-0.12,"NS2":0,"TS1":0.25,"BS2":0.28,"MS2":0.2,"BS3":0.42,"TS3":1,"DS3":0.65},
{"r":"DS3","MS4":-0.08,"BS1":-0.15,"DS2":0.33,"TS2":-0.06,"DS1":0.4,"MK":-0.02,"MS1":-0.18,"MS3":0.04,"NS1":-0.12,"NS2":-0.03,"TS1":0.3,"BS2":0.2,"MS2":0.12,"BS3":0.15,"TS3":0.65,"DS3":1}
],
"links": [
{"xl":35,"xr":45,"hl":0,"hr":0,"h":0.487},
{"xl":25,"xr":40,"hl":0,"hr":0.487,"h":0.547},
{"xl":15,"xr":32.5,"hl":0,"hr":0.547,"h":0.629},
{"xl":5,"xr":23.75,"hl":0,"hr":0.629,"h":0.8},
{"xl":65,"xr":75,"hl":0,"hr":0,"h":0.684},
{"xl":55,"xr":70,"hl":0,"hr":0.684,"h":0.763},
{"xl":85,"xr":95,"hl":0,"hr":0,"h":0.487},
{"xl":115,"xr":125,"hl":0,"hr":0,"h":0.505},
{"xl":105,"xr":120,"hl":0,"hr":0.505,"h":0.579},
{"xl":90,"xr":112.5,"hl":0.487,"hr":0.579,"h":0.626},
{"xl":145,"xr":155,"hl":0,"hr":0,"h":0.376},
{"xl":135,"xr":150,"hl":0,"hr":0.376,"h":0.629},
{"xl":101.25,"xr":142.5,"hl":0.626,"hr":0.629,"h":0.768},
{"xl":62.5,"xr":121.875,"hl":0.763,"hr":0.768,"h":0.871},
{"xl":14.375,"xr":92.1875,"hl":0.8,"hr":0.871,"h":1}
]
},
"vconcat": [
{
"hconcat": [
{
"width": 202, "height": 960,
"title": {"text": "a", "anchor": "start", "fontSize": 28, "fontWeight": "bold", "dx": -75, "dy": 17, "offset": 0},
"data": {"name": "types"},
"transform": [
{"window": [{"op": "row_number", "as": "row"}]},
{"aggregate": [{"op": "min", "field": "row", "as": "r0"}, {"op": "max", "field": "row", "as": "r1"}, {"op": "mean", "field": "row", "as": "rm"}], "groupby": ["g"]}
],
"layer": [
{"mark": {"type": "rule", "strokeWidth": 2, "color": "#000"},
 "encoding": {"x": {"value": 134}, "y": {"field": "r0", "type": "quantitative", "scale": {"domain": [0.5, 65.5], "reverse": true, "nice": false, "zero": false}, "axis": null}, "y2": {"field": "r1"}}},
{"mark": {"type": "text", "align": "left", "baseline": "middle", "fontSize": 20, "color": "#000", "dy": -10},
 "encoding": {"x": {"value": 0}, "y": {"field": "rm", "type": "quantitative", "axis": null}, "text": {"field": "g"}}}
]
},
{
"width": 490, "height": 960,
"title": {"text": "Cell Types", "fontSize": 20, "fontWeight": "normal", "offset": 11},
"data": {"name": "types"},
"transform": [
{"fold": ["T", "B", "NK", "Mono", "DC", "MK"], "as": ["k", "v"]},
{"lookup": "k", "from": {"data": {"name": "typeCats"}, "key": "k", "fields": ["i"]}}
],
"mark": {"type": "bar"},
"encoding": {
"y": {"field": "s", "type": "nominal", "sort": null, "scale": {"paddingInner": 0.45, "paddingOuter": 0.225}, "axis": {"title": null, "labelFontSize": 16, "tickSize": 5, "domain": false, "labelPadding": 2}},
"x": {"field": "v", "type": "quantitative", "stack": "normalize", "axis": {"title": null, "values": [0, 0.2, 0.4, 0.6, 0.8, 1], "labelExpr": "format(datum.value, '.1f')", "labelFontSize": 19, "tickSize": 5, "domain": false, "labelFlush": false}},
"color": {"field": "k", "type": "nominal", "scale": {"domain": ["T", "B", "NK", "Mono", "DC", "MK"], "range": ["#1f6fb2", "#f57c22", "#23915c", "#d62529", "#7f519f", "#8b4f47"]}, "legend": null},
"order": {"field": "i", "type": "quantitative"}
}
},
{
"width": 490, "height": 960,
"title": {"text": "Cell States", "fontSize": 20, "fontWeight": "normal", "offset": 11, "dx": -24},
"data": {"name": "states"},
"transform": [
{"fold": ["TS1", "TS2", "TS3", "BS1", "BS2", "BS3", "NS1", "NS2", "MS1", "MS2", "MS3", "MS4", "DS1", "DS2", "DS3", "MK"], "as": ["k", "v"]},
{"lookup": "k", "from": {"data": {"name": "stateCats"}, "key": "k", "fields": ["i"]}}
],
"mark": {"type": "bar"},
"encoding": {
"y": {"field": "s", "type": "nominal", "sort": null, "scale": {"paddingInner": 0.45, "paddingOuter": 0.225}, "axis": {"title": null, "labels": false, "tickSize": 5, "domain": false}},
"x": {"field": "v", "type": "quantitative", "stack": "normalize", "axis": {"title": null, "values": [0, 0.2, 0.4, 0.6, 0.8, 1], "labelExpr": "format(datum.value, '.1f')", "labelFontSize": 19, "tickSize": 5, "domain": false, "labelFlush": false}},
"color": {"field": "k", "type": "nominal", "scale": {"domain": ["TS1", "TS2", "TS3", "BS1", "BS2", "BS3", "NS1", "NS2", "MS1", "MS2", "MS3", "MS4", "DS1", "DS2", "DS3", "MK"], "range": ["#1f6fb2", "#f57c22", "#23915c", "#d62529", "#7f519f", "#8b4f47", "#d673a9", "#b2b44c", "#1db8cb", "#a8c4e4", "#fdb470", "#97ce83", "#f79190", "#c2aed4", "#c49a8f", "#f6b3cf"]}, "legend": null},
"order": {"field": "i", "type": "quantitative"}
}
},
{
"width": 220, "height": 960,
"resolve": {"scale": {"color": "independent"}},
"layer": [
{"data": {"name": "typeCats"}, "mark": {"type": "square", "size": 49, "filled": true, "opacity": 1},
 "encoding": {"x": {"value": 24}, "y": {"field": "id", "type": "nominal", "scale": {"type": "band", "domain": ["a1", "a2", "a3", "a4", "a5", "a6", "a7", "a8", "a9", "a10", "T", "B", "NK", "Mono", "DC", "MK_t", "sp1", "sp2", "TS1", "TS2", "TS3", "BS1", "BS2", "BS3", "NS1", "NS2", "MS1", "MS2", "MS3", "MS4", "DS1", "DS2", "DS3", "MK_s", "z1", "z2", "z3", "z4", "z5", "z6", "z7", "z8"], "paddingInner": 0, "paddingOuter": 0.26, "align": 0.1}, "axis": null},
  "color": {"field": "k", "type": "nominal", "scale": {"domain": ["T", "B", "NK", "Mono", "DC", "MK"], "range": ["#1f6fb2", "#f57c22", "#23915c", "#d62529", "#7f519f", "#8b4f47"]}, "legend": null}}},
{"data": {"name": "typeCats"}, "mark": {"type": "text", "align": "left", "baseline": "middle", "fontSize": 18, "color": "#000"},
 "encoding": {"x": {"value": 34}, "y": {"field": "id", "type": "nominal", "axis": null}, "text": {"field": "k"}}},
{"data": {"name": "stateCats"}, "mark": {"type": "square", "size": 49, "filled": true, "opacity": 1},
 "encoding": {"x": {"value": 24}, "y": {"field": "id", "type": "nominal", "axis": null},
  "color": {"field": "k", "type": "nominal", "scale": {"domain": ["TS1", "TS2", "TS3", "BS1", "BS2", "BS3", "NS1", "NS2", "MS1", "MS2", "MS3", "MS4", "DS1", "DS2", "DS3", "MK"], "range": ["#1f6fb2", "#f57c22", "#23915c", "#d62529", "#7f519f", "#8b4f47", "#d673a9", "#b2b44c", "#1db8cb", "#a8c4e4", "#fdb470", "#97ce83", "#f79190", "#c2aed4", "#c49a8f", "#f6b3cf"]}, "legend": null}}},
{"data": {"name": "stateCats"}, "mark": {"type": "text", "align": "left", "baseline": "middle", "fontSize": 18, "color": "#000"},
 "encoding": {"x": {"value": 34}, "y": {"field": "id", "type": "nominal", "axis": null}, "text": {"field": "k"}}},
{"data": {"name": "legendBrackets"}, "mark": {"type": "rule", "strokeWidth": 2, "color": "#000"},
 "encoding": {"x": {"value": 111}, "y": {"field": "a", "type": "nominal", "axis": null}, "y2": {"field": "b"}}},
{"data": {"name": "legendBrackets"}, "mark": {"type": "text", "align": "left", "baseline": "middle", "fontSize": 20, "color": "#000"},
 "encoding": {"x": {"value": 130}, "y": {"field": "m", "type": "nominal", "axis": null}, "text": {"field": "t"}}}
]
}
],
"spacing": 37,
"bounds": "flush",
"resolve": {"scale": {"color": "independent"}}
},
{
"title": {"text": "b", "anchor": "start", "fontSize": 28, "fontWeight": "bold", "dx": -75, "offset": 26},
"concat": [
{"width": 131, "height": 131, "data": {"values": [{"n": 0}]}, "mark": {"type": "point", "opacity": 0}, "encoding": {}},
{"width": 530, "height": 131, "data": {"name": "links"},
 "layer": [
 {"mark": {"type": "rule", "color": "#111", "strokeWidth": 1.6},
  "encoding": {"x": {"field": "xl", "type": "quantitative", "scale": {"domain": [0, 160], "nice": false, "zero": false}, "axis": null}, "y": {"field": "hl", "type": "quantitative", "scale": {"domain": [0, 1], "nice": false}, "axis": null}, "y2": {"field": "h"}}},
 {"mark": {"type": "rule", "color": "#111", "strokeWidth": 1.6},
  "encoding": {"x": {"field": "xr", "type": "quantitative", "axis": null}, "y": {"field": "hr", "type": "quantitative", "axis": null}, "y2": {"field": "h"}}},
 {"mark": {"type": "rule", "color": "#111", "strokeWidth": 1.6},
  "encoding": {"x": {"field": "xl", "type": "quantitative", "axis": null}, "x2": {"field": "xr"}, "y": {"field": "h", "type": "quantitative", "axis": null}}}
 ]},
{"width": 131, "height": 514, "data": {"name": "links"},
 "layer": [
 {"mark": {"type": "rule", "color": "#111", "strokeWidth": 1.6},
  "encoding": {"y": {"field": "xl", "type": "quantitative", "scale": {"domain": [0, 160], "nice": false, "zero": false, "reverse": true}, "axis": null}, "x": {"field": "hl", "type": "quantitative", "scale": {"domain": [0, 1], "nice": false, "reverse": true}, "axis": null}, "x2": {"field": "h"}}},
 {"mark": {"type": "rule", "color": "#111", "strokeWidth": 1.6},
  "encoding": {"y": {"field": "xr", "type": "quantitative", "axis": null}, "x": {"field": "hr", "type": "quantitative", "axis": null}, "x2": {"field": "h"}}},
 {"mark": {"type": "rule", "color": "#111", "strokeWidth": 1.6},
  "encoding": {"y": {"field": "xl", "type": "quantitative", "axis": null}, "y2": {"field": "xr"}, "x": {"field": "h", "type": "quantitative", "axis": null}}}
 ]},
{"width": 530, "height": 514, "data": {"name": "corr"},
 "transform": [{"fold": ["MS4", "BS1", "DS2", "TS2", "DS1", "MK", "MS1", "MS3", "NS1", "NS2", "TS1", "BS2", "MS2", "BS3", "TS3", "DS3"], "as": ["c", "v"]}],
 "mark": {"type": "rect"},
 "encoding": {
  "x": {"field": "c", "type": "nominal", "sort": ["MS4", "BS1", "DS2", "TS2", "DS1", "MK", "MS1", "MS3", "NS1", "NS2", "TS1", "BS2", "MS2", "BS3", "TS3", "DS3"], "scale": {"paddingInner": 0, "paddingOuter": 0}, "axis": {"title": null, "orient": "bottom", "labelAngle": -90, "labelFontSize": 16.5, "tickSize": 4, "domain": false, "labelPadding": 2}},
  "y": {"field": "r", "type": "nominal", "sort": ["MS4", "BS1", "DS2", "TS2", "DS1", "MK", "MS1", "MS3", "NS1", "NS2", "TS1", "BS2", "MS2", "BS3", "TS3", "DS3"], "scale": {"paddingInner": 0, "paddingOuter": 0}, "axis": {"title": null, "orient": "right", "labelFontSize": 17, "tickSize": 5, "domain": false, "labelPadding": 3}},
  "color": {"field": "v", "type": "quantitative", "scale": {"domain": [-0.79, 0, 0.79], "range": ["#37479c", "#ffffff", "#e8171f"], "interpolate": "rgb", "clamp": true},
   "legend": {"orient": "none", "legendX": 625, "legendY": 408, "direction": "vertical", "gradientLength": 101, "gradientThickness": 27, "title": null, "values": [-0.6, -0.3, 0, 0.3, 0.6], "format": ".1f", "labelFontSize": 14, "gradientStrokeWidth": 0}}
 }}
],
"columns": 2,
"spacing": 0,
"bounds": "flush",
"resolve": {"scale": {"color": "independent"}}
}
],
"spacing": 36,
"bounds": "full",
"resolve": {"scale": {"color": "independent"}, "legend": {"color": "independent"}}
}
